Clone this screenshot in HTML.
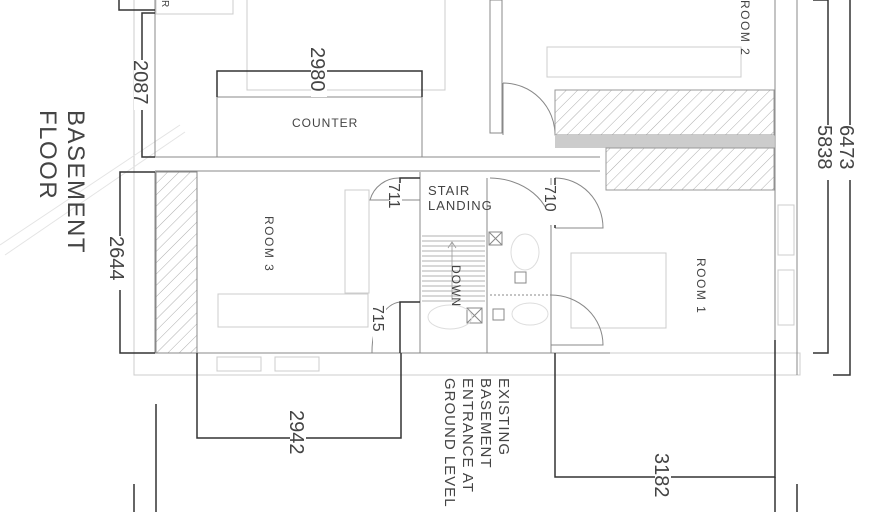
<!DOCTYPE html>
<html><head><style>body{margin:0;background:#fff}svg{display:block}text{font-family:"Liberation Sans",sans-serif;fill:#444}</style></head><body>
<svg width="896" height="512" viewBox="0 0 896 512" xmlns="http://www.w3.org/2000/svg">
<defs><pattern id="h" width="8" height="8" patternUnits="userSpaceOnUse" patternTransform="rotate(45)"><line x1="0" y1="0" x2="0" y2="8" stroke="#999" stroke-width="0.8"/></pattern></defs>
<g fill="none" stroke="#ccc" stroke-width="1">
<rect x="247" y="-2" width="198" height="92"/>
<rect x="156" y="-2" width="77" height="16"/>
<line x1="134" y1="0" x2="134" y2="375"/>
<rect x="134" y="353" width="666" height="22"/>
<rect x="547" y="47" width="194" height="30"/>
<rect x="571" y="253" width="95" height="75"/>
<rect x="218" y="294" width="150" height="33"/>
<rect x="345" y="190" width="24" height="103"/>
<rect x="217" y="357" width="44" height="14"/>
<rect x="275" y="357" width="44" height="14"/>
<rect x="778" y="205" width="16" height="50"/>
<rect x="778" y="270" width="16" height="55"/>
<line x1="0" y1="245" x2="180" y2="125" stroke="#e4e4e4"/>
<line x1="5" y1="255" x2="185" y2="132" stroke="#e4e4e4"/>
</g>
<g fill="none" stroke="#888" stroke-width="1">
<line x1="155" y1="0" x2="155" y2="157"/>
<line x1="155" y1="157" x2="600" y2="157"/>
<line x1="155" y1="171" x2="600" y2="171"/>
<rect x="217" y="71" width="205" height="86"/>
<line x1="217" y1="97" x2="422" y2="97"/>
<line x1="155" y1="172" x2="155" y2="353"/>
<line x1="197" y1="172" x2="197" y2="353"/>
<line x1="155" y1="353" x2="610" y2="353"/>
<line x1="420" y1="172" x2="420" y2="353"/>
<line x1="487" y1="178" x2="487" y2="353"/>
<rect x="490" y="0" width="12" height="133"/>
<line x1="775" y1="0" x2="775" y2="340"/>
<line x1="797" y1="0" x2="797" y2="375"/>
<line x1="551" y1="178" x2="551" y2="353"/>
<line x1="490" y1="295" x2="551" y2="295" stroke-dasharray="2 2"/>
<path d="M503 83 A52 52 0 0 1 555 135 M503 83 V135"/>
<path d="M400 178 A30 30 0 0 0 370 200 H420"/>
<path d="M400 302 A30 50 0 0 0 372 353"/>
<path d="M490 178 A62 50 0 0 1 551 228"/>
<path d="M555 178 A48 50 0 0 1 603 228 H555"/>
<path d="M551 295 A52 50 0 0 1 603 345 H551"/>
<rect x="489" y="232" width="13" height="13"/><path d="M489 232l13 13M502 232l-13 13"/>
<rect x="467" y="308" width="15" height="15"/><path d="M467 308l15 15M482 308l-15 15"/>
<rect x="493" y="309" width="11" height="11"/>
<rect x="515" y="272" width="11" height="11"/>
<ellipse cx="525" cy="252" rx="14" ry="18" stroke="#ddd"/>
<ellipse cx="450" cy="317" rx="22" ry="12" stroke="#ddd"/>
<ellipse cx="530" cy="314" rx="18" ry="11" stroke="#ddd"/>
</g>
<rect x="156" y="172" width="41" height="181" fill="url(#h)" stroke="#888"/>
<rect x="555" y="90" width="219" height="45" fill="url(#h)" stroke="#999"/>
<rect x="555" y="135" width="219" height="13" fill="#ccc"/>
<rect x="606" y="148" width="168" height="42" fill="url(#h)" stroke="#999"/>
<g stroke="#999" stroke-width="0.8">
<line x1="422" y1="236" x2="485" y2="236"/><line x1="422" y1="241" x2="485" y2="241"/><line x1="422" y1="246" x2="485" y2="246"/><line x1="422" y1="251" x2="485" y2="251"/><line x1="422" y1="256" x2="485" y2="256"/><line x1="422" y1="261" x2="485" y2="261"/><line x1="422" y1="266" x2="485" y2="266"/><line x1="422" y1="271" x2="485" y2="271"/><line x1="422" y1="276" x2="485" y2="276"/><line x1="422" y1="281" x2="485" y2="281"/><line x1="422" y1="286" x2="485" y2="286"/><line x1="422" y1="291" x2="485" y2="291"/><line x1="422" y1="296" x2="485" y2="296"/><line x1="422" y1="301" x2="485" y2="301"/>
<line x1="452" y1="243" x2="452" y2="300"/><path d="M448 248 L452 242 L456 248" fill="none"/>
</g>
<g fill="none" stroke="#333" stroke-width="1.5">
<path d="M119 0 V10 H155"/>
<path d="M155 13 H142 V157 H155"/>
<path d="M217 97 V71 H422 V97"/>
<path d="M155 172 H120 V353 H155"/>
<path d="M197 353 V438 H401 V353"/>
<path d="M420 178 H400 V198"/>
<path d="M420 302 H400 V353"/>
<path d="M555 228 V178"/>
<path d="M555 353 V477 H775 V340"/>
<path d="M813 0 H828 V353 H813"/>
<path d="M850 0 V375 H833"/>
<line x1="156" y1="404" x2="156" y2="512"/>
<line x1="134" y1="484" x2="134" y2="512"/>
<line x1="775" y1="477" x2="775" y2="512"/>
<line x1="797" y1="484" x2="797" y2="512"/>
</g>
<g fill="#fff">
<rect x="134" y="60" width="16" height="50"/>
<rect x="311" y="47" width="16" height="50"/>
<rect x="110" y="236" width="16" height="54"/>
<rect x="290" y="410" width="16" height="55"/>
<rect x="655" y="453" width="16" height="48"/>
<rect x="840" y="125" width="16" height="55"/>
<rect x="818" y="125" width="16" height="55"/>
<rect x="389" y="183" width="13" height="40"/>
<rect x="545" y="185" width="13" height="40"/>
<rect x="373" y="305" width="13" height="40"/>
</g>
<g font-size="20" fill="#333">
<text transform="translate(134,60) rotate(90)">2087</text>
<text transform="translate(311,47) rotate(90)">2980</text>
<text transform="translate(110,236) rotate(90)">2644</text>
<text transform="translate(290,410) rotate(90)">2942</text>
<text transform="translate(655,453) rotate(90)">3182</text>
<text transform="translate(840,125) rotate(90)">6473</text>
<text transform="translate(818,125) rotate(90)">5838</text>
<text transform="translate(389,183) rotate(90)" font-size="16">711</text>
<text transform="translate(545,185) rotate(90)" font-size="16">710</text>
<text transform="translate(373,305) rotate(90)" font-size="16">715</text>
</g>
<g font-size="12" letter-spacing="1">
<text x="292" y="127">COUNTER</text>
<text x="428" y="195" font-size="13">STAIR</text>
<text x="428" y="210" font-size="13">LANDING</text>
<text transform="translate(265,216) rotate(90)" letter-spacing="1.5">ROOM 3</text>
<text transform="translate(697,258) rotate(90)" letter-spacing="1.5">ROOM 1</text>
<text transform="translate(741,0) rotate(90)" letter-spacing="1.5">ROOM 2</text>
<text transform="translate(452,265) rotate(90)">DOWN</text>
<text transform="translate(162,0) rotate(90)" font-size="10">R</text>
</g>
<g font-size="15" fill="#555" letter-spacing="1">
<text transform="translate(499,378) rotate(90)">EXISTING</text>
<text transform="translate(481,378) rotate(90)">BASEMENT</text>
<text transform="translate(463,378) rotate(90)">ENTRANCE AT</text>
<text transform="translate(445,378) rotate(90)">GROUND LEVEL</text>
<text transform="translate(68,110) rotate(90)" font-size="24" letter-spacing="1.5">BASEMENT</text>
<text transform="translate(40,110) rotate(90)" font-size="24" letter-spacing="1.5">FLOOR</text>
</g>
</svg>
</body></html>
